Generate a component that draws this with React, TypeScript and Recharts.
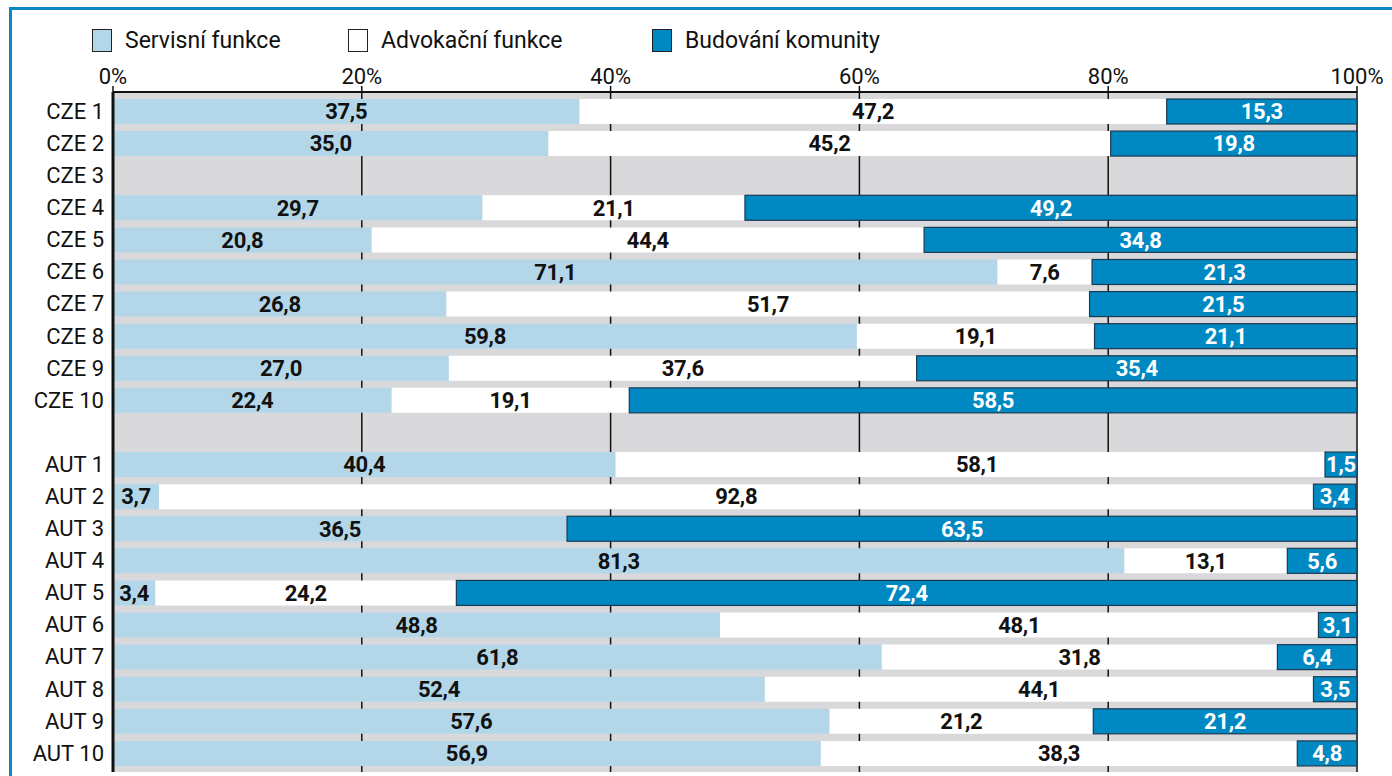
import { BarChart, Bar, XAxis, YAxis, CartesianGrid, LabelList } from "recharts"

const categories = [
  "CZE 1", "CZE 2", "CZE 3", "CZE 4", "CZE 5", "CZE 6", "CZE 7", "CZE 8", "CZE 9", "CZE 10",
  "",
  "AUT 1", "AUT 2", "AUT 3", "AUT 4", "AUT 5", "AUT 6", "AUT 7", "AUT 8", "AUT 9", "AUT 10",
]
const servisni = [37.5, 35.0, null, 29.7, 20.8, 71.1, 26.8, 59.8, 27.0, 22.4, null, 40.4, 3.7, 36.5, 81.3, 3.4, 48.8, 61.8, 52.4, 57.6, 56.9]
const advokacni = [47.2, 45.2, null, 21.1, 44.4, 7.6, 51.7, 19.1, 37.6, 19.1, null, 58.1, 92.8, 0, 13.1, 24.2, 48.1, 31.8, 44.1, 21.2, 38.3]
const budovani = [15.3, 19.8, null, 49.2, 34.8, 21.3, 21.5, 21.1, 35.4, 58.5, null, 1.5, 3.4, 63.5, 5.6, 72.4, 3.1, 6.4, 3.5, 21.2, 4.8]
const seriesNames = ["Servisní funkce", "Advokační funkce", "Budování komunity"]
const tickValues = [0, 20, 40, 60, 80, 100]

const COLORS = ["#b3d7e9", "#ffffff", "#0088c2"]
const FONT = "'Roboto', sans-serif"

const data = categories.map((name, i) => ({
  name,
  s: servisni[i],
  a: advokacni[i],
  b: budovani[i],
}))

// small dark segments get widened so the label fits
const MIN_DARK = 32

const fmt = (v: number) => v.toFixed(1).replace(".", ",")

function makeLabel(color: string, minWidth = 0) {
  return (props: any) => {
    const { x, y, width, height, value } = props
    if (value == null || value === 0) return null
    const w = Math.max(width, minWidth)
    const left = x + width - w
    return (
      <text
        x={left + w / 2}
        y={y + height / 2 + 2}
        textAnchor="middle"
        dominantBaseline="middle"
        fill={color}
        fontWeight={700}
        fontSize={22}
        fontFamily={FONT}
        letterSpacing={-0.3}
      >
        {fmt(value)}
      </text>
    )
  }
}

function DarkBar(props: any) {
  const { x, y, width, height } = props
  if (!width || width <= 0) return null
  const w = Math.max(width, MIN_DARK)
  return <rect x={x + width - w} y={y} width={w} height={height} fill={COLORS[2]} stroke="#1b3b52" strokeWidth={1.2} />
}

export default function App() {
  return (
    <div style={{ position: "relative", width: 1392, height: 776, fontFamily: FONT, overflow: "hidden" }}>
      <style>{`body{margin:0}`}</style>
      <div
        style={{
          position: "absolute",
          left: 9,
          top: 7,
          width: 1392,
          height: 776,
          borderTop: "3px solid #0a87c4",
          borderLeft: "3px solid #0a87c4",
        }}
      />
      <div style={{ position: "absolute", top: 27, left: 92, display: "flex", fontSize: 23, color: "#111" }}>
        {seriesNames.map((n, i) => (
          <div key={n} style={{ display: "flex", alignItems: "center", width: [256, 304, 300][i] }}>
            <span
              style={{
                display: "inline-block",
                width: 20,
                height: 23,
                background: COLORS[i],
                border: "1.5px solid #222",
                marginRight: 13,
                boxSizing: "border-box",
              }}
            />
            <span>{n}</span>
          </div>
        ))}
      </div>
      <div style={{ position: "absolute", left: 0, top: 0 }}>
        <BarChart
          width={1392}
          height={776}
          data={data}
          layout="vertical"
          margin={{ top: 62, right: 35, bottom: 4, left: 13 }}
          barSize={25}
        >
          <CartesianGrid fill="#d9d9db" horizontal={false} stroke="#111" strokeWidth={1.5} />
          <XAxis
            type="number"
            orientation="top"
            domain={[0, 100]}
            ticks={tickValues}
            tickFormatter={(v) => `${v}%`}
            height={30}
            axisLine={{ stroke: "#111", strokeWidth: 2 }}
            tickLine={{ stroke: "#111", strokeWidth: 1.5 }}
            tickSize={6}
            tick={{ fill: "#111", fontSize: 22, fontFamily: FONT }}
          />
          <XAxis
            xAxisId="bottom"
            type="number"
            orientation="bottom"
            domain={[0, 100]}
            height={0}
            tick={false}
            tickLine={false}
            axisLine={{ stroke: "#111", strokeWidth: 2 }}
          />
          <YAxis
            type="category"
            dataKey="name"
            width={100}
            interval={0}
            padding={{ top: 3, bottom: 3 }}
            tickLine={false}
            tickMargin={3}
            axisLine={{ stroke: "#111", strokeWidth: 3 }}
            tick={{ fill: "#111", fontSize: 22, fontFamily: FONT }}
          />
          <Bar dataKey="s" name={seriesNames[0]} stackId="x" fill={COLORS[0]} isAnimationActive={false}>
            <LabelList dataKey="s" content={makeLabel("#111")} />
          </Bar>
          <Bar dataKey="a" name={seriesNames[1]} stackId="x" fill={COLORS[1]} isAnimationActive={false}>
            <LabelList dataKey="a" content={makeLabel("#111")} />
          </Bar>
          <Bar dataKey="b" name={seriesNames[2]} stackId="x" fill={COLORS[2]} shape={DarkBar} isAnimationActive={false}>
            <LabelList dataKey="b" content={makeLabel("#ffffff", MIN_DARK)} />
          </Bar>
        </BarChart>
      </div>
    </div>
  )
}
